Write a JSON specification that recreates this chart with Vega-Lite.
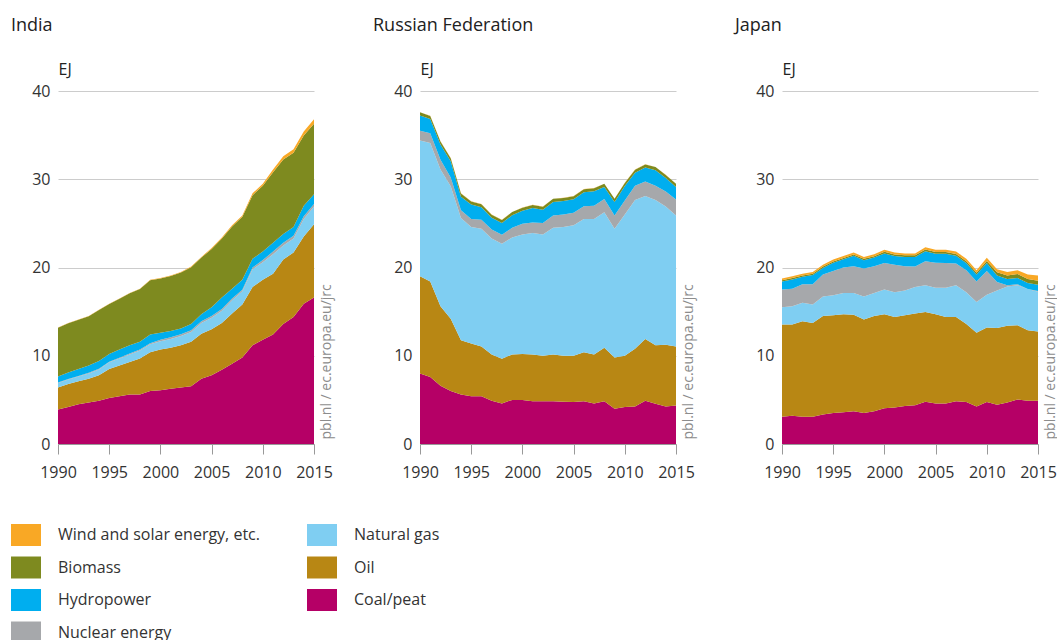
{
  "$schema": "https://vega.github.io/schema/vega-lite/v6.json",
  "padding": {"left": 11, "top": 17, "right": 0, "bottom": 0},
  "bounds": "flush",
  "spacing": 106,
  "config": {
    "view": {"stroke": null},
    "font": "Open Sans",
    "title": {"anchor": "start", "dx": -47, "fontSize": 18, "fontWeight": "normal", "font": "Open Sans", "color": "#222222", "offset": 26, "frame": "group"},
    "axis": {"labelFont": "Open Sans", "labelFontSize": 16, "labelColor": "#333333", "titleFont": "Open Sans", "titleFontWeight": "normal", "titleColor": "#222222"},
    "legend": {"orient": "none", "legendX": -47, "legendY": 429, "columns": 2, "direction": "vertical", "columnPadding": 47, "rowPadding": 6.5, "symbolType": "M-1,-0.733H1V0.733H-1Z", "symbolSize": 900, "symbolStrokeWidth": 0, "symbolOpacity": 1, "labelFont": "Open Sans", "labelFontSize": 16, "labelColor": "#333333", "labelOffset": 17, "labelLimit": 400, "padding": 0}
  },
  "datasets": {
    "rank": [
      {"s":"Coal/peat","k":1},{"s":"Oil","k":2},{"s":"Natural gas","k":3},{"s":"Nuclear energy","k":4},{"s":"Hydropower","k":5},{"s":"Biomass","k":6},{"s":"Wind and solar energy, etc.","k":7}
    ],
    "India": [
      {"year":1990,"s":"Coal/peat","v":3.9},{"year":1990,"s":"Oil","v":2.5},{"year":1990,"s":"Natural gas","v":0.5},{"year":1990,"s":"Nuclear energy","v":0.06},{"year":1990,"s":"Hydropower","v":0.69},{"year":1990,"s":"Biomass","v":5.53},{"year":1990,"s":"Wind and solar energy, etc.","v":0.02},
      {"year":1991,"s":"Coal/peat","v":4.2},{"year":1991,"s":"Oil","v":2.6},{"year":1991,"s":"Natural gas","v":0.5},{"year":1991,"s":"Nuclear energy","v":0.06},{"year":1991,"s":"Hydropower","v":0.74},{"year":1991,"s":"Biomass","v":5.58},{"year":1991,"s":"Wind and solar energy, etc.","v":0.02},
      {"year":1992,"s":"Coal/peat","v":4.5},{"year":1992,"s":"Oil","v":2.6},{"year":1992,"s":"Natural gas","v":0.55},{"year":1992,"s":"Nuclear energy","v":0.06},{"year":1992,"s":"Hydropower","v":0.79},{"year":1992,"s":"Biomass","v":5.58},{"year":1992,"s":"Wind and solar energy, etc.","v":0.02},
      {"year":1993,"s":"Coal/peat","v":4.7},{"year":1993,"s":"Oil","v":2.7},{"year":1993,"s":"Natural gas","v":0.6},{"year":1993,"s":"Nuclear energy","v":0.06},{"year":1993,"s":"Hydropower","v":0.84},{"year":1993,"s":"Biomass","v":5.58},{"year":1993,"s":"Wind and solar energy, etc.","v":0.02},
      {"year":1994,"s":"Coal/peat","v":4.9},{"year":1994,"s":"Oil","v":2.9},{"year":1994,"s":"Natural gas","v":0.65},{"year":1994,"s":"Nuclear energy","v":0.07},{"year":1994,"s":"Hydropower","v":0.88},{"year":1994,"s":"Biomass","v":5.78},{"year":1994,"s":"Wind and solar energy, etc.","v":0.02},
      {"year":1995,"s":"Coal/peat","v":5.2},{"year":1995,"s":"Oil","v":3.3},{"year":1995,"s":"Natural gas","v":0.75},{"year":1995,"s":"Nuclear energy","v":0.08},{"year":1995,"s":"Hydropower","v":0.87},{"year":1995,"s":"Biomass","v":5.67},{"year":1995,"s":"Wind and solar energy, etc.","v":0.03},
      {"year":1996,"s":"Coal/peat","v":5.4},{"year":1996,"s":"Oil","v":3.5},{"year":1996,"s":"Natural gas","v":0.8},{"year":1996,"s":"Nuclear energy","v":0.08},{"year":1996,"s":"Hydropower","v":0.92},{"year":1996,"s":"Biomass","v":5.77},{"year":1996,"s":"Wind and solar energy, etc.","v":0.03},
      {"year":1997,"s":"Coal/peat","v":5.6},{"year":1997,"s":"Oil","v":3.7},{"year":1997,"s":"Natural gas","v":0.85},{"year":1997,"s":"Nuclear energy","v":0.1},{"year":1997,"s":"Hydropower","v":0.95},{"year":1997,"s":"Biomass","v":5.87},{"year":1997,"s":"Wind and solar energy, etc.","v":0.03},
      {"year":1998,"s":"Coal/peat","v":5.6},{"year":1998,"s":"Oil","v":4.1},{"year":1998,"s":"Natural gas","v":0.9},{"year":1998,"s":"Nuclear energy","v":0.12},{"year":1998,"s":"Hydropower","v":0.88},{"year":1998,"s":"Biomass","v":5.96},{"year":1998,"s":"Wind and solar energy, etc.","v":0.04},
      {"year":1999,"s":"Coal/peat","v":6.0},{"year":1999,"s":"Oil","v":4.4},{"year":1999,"s":"Natural gas","v":0.9},{"year":1999,"s":"Nuclear energy","v":0.13},{"year":1999,"s":"Hydropower","v":0.97},{"year":1999,"s":"Biomass","v":6.16},{"year":1999,"s":"Wind and solar energy, etc.","v":0.04},
      {"year":2000,"s":"Coal/peat","v":6.1},{"year":2000,"s":"Oil","v":4.6},{"year":2000,"s":"Natural gas","v":0.95},{"year":2000,"s":"Nuclear energy","v":0.17},{"year":2000,"s":"Hydropower","v":0.78},{"year":2000,"s":"Biomass","v":6.15},{"year":2000,"s":"Wind and solar energy, etc.","v":0.05},
      {"year":2001,"s":"Coal/peat","v":6.25},{"year":2001,"s":"Oil","v":4.65},{"year":2001,"s":"Natural gas","v":1.0},{"year":2001,"s":"Nuclear energy","v":0.2},{"year":2001,"s":"Hydropower","v":0.7},{"year":2001,"s":"Biomass","v":6.25},{"year":2001,"s":"Wind and solar energy, etc.","v":0.05},
      {"year":2002,"s":"Coal/peat","v":6.4},{"year":2002,"s":"Oil","v":4.8},{"year":2002,"s":"Natural gas","v":1.05},{"year":2002,"s":"Nuclear energy","v":0.2},{"year":2002,"s":"Hydropower","v":0.65},{"year":2002,"s":"Biomass","v":6.34},{"year":2002,"s":"Wind and solar energy, etc.","v":0.06},
      {"year":2003,"s":"Coal/peat","v":6.55},{"year":2003,"s":"Oil","v":5.05},{"year":2003,"s":"Natural gas","v":1.1},{"year":2003,"s":"Nuclear energy","v":0.2},{"year":2003,"s":"Hydropower","v":0.7},{"year":2003,"s":"Biomass","v":6.43},{"year":2003,"s":"Wind and solar energy, etc.","v":0.07},
      {"year":2004,"s":"Coal/peat","v":7.4},{"year":2004,"s":"Oil","v":5.1},{"year":2004,"s":"Natural gas","v":1.2},{"year":2004,"s":"Nuclear energy","v":0.2},{"year":2004,"s":"Hydropower","v":0.8},{"year":2004,"s":"Biomass","v":6.42},{"year":2004,"s":"Wind and solar energy, etc.","v":0.08},
      {"year":2005,"s":"Coal/peat","v":7.8},{"year":2005,"s":"Oil","v":5.2},{"year":2005,"s":"Natural gas","v":1.3},{"year":2005,"s":"Nuclear energy","v":0.2},{"year":2005,"s":"Hydropower","v":1.0},{"year":2005,"s":"Biomass","v":6.6},{"year":2005,"s":"Wind and solar energy, etc.","v":0.1},
      {"year":2006,"s":"Coal/peat","v":8.4},{"year":2006,"s":"Oil","v":5.3},{"year":2006,"s":"Natural gas","v":1.4},{"year":2006,"s":"Nuclear energy","v":0.2},{"year":2006,"s":"Hydropower","v":1.3},{"year":2006,"s":"Biomass","v":6.68},{"year":2006,"s":"Wind and solar energy, etc.","v":0.12},
      {"year":2007,"s":"Coal/peat","v":9.1},{"year":2007,"s":"Oil","v":5.7},{"year":2007,"s":"Natural gas","v":1.5},{"year":2007,"s":"Nuclear energy","v":0.2},{"year":2007,"s":"Hydropower","v":1.1},{"year":2007,"s":"Biomass","v":7.06},{"year":2007,"s":"Wind and solar energy, etc.","v":0.14},
      {"year":2008,"s":"Coal/peat","v":9.8},{"year":2008,"s":"Oil","v":6.0},{"year":2008,"s":"Natural gas","v":1.5},{"year":2008,"s":"Nuclear energy","v":0.18},{"year":2008,"s":"Hydropower","v":1.12},{"year":2008,"s":"Biomass","v":7.14},{"year":2008,"s":"Wind and solar energy, etc.","v":0.16},
      {"year":2009,"s":"Coal/peat","v":11.2},{"year":2009,"s":"Oil","v":6.6},{"year":2009,"s":"Natural gas","v":2.0},{"year":2009,"s":"Nuclear energy","v":0.2},{"year":2009,"s":"Hydropower","v":1.0},{"year":2009,"s":"Biomass","v":7.2},{"year":2009,"s":"Wind and solar energy, etc.","v":0.2},
      {"year":2010,"s":"Coal/peat","v":11.8},{"year":2010,"s":"Oil","v":6.8},{"year":2010,"s":"Natural gas","v":2.0},{"year":2010,"s":"Nuclear energy","v":0.25},{"year":2010,"s":"Hydropower","v":0.95},{"year":2010,"s":"Biomass","v":7.45},{"year":2010,"s":"Wind and solar energy, etc.","v":0.25},
      {"year":2011,"s":"Coal/peat","v":12.4},{"year":2011,"s":"Oil","v":6.9},{"year":2011,"s":"Natural gas","v":2.2},{"year":2011,"s":"Nuclear energy","v":0.3},{"year":2011,"s":"Hydropower","v":1.0},{"year":2011,"s":"Biomass","v":8.0},{"year":2011,"s":"Wind and solar energy, etc.","v":0.3},
      {"year":2012,"s":"Coal/peat","v":13.6},{"year":2012,"s":"Oil","v":7.3},{"year":2012,"s":"Natural gas","v":1.6},{"year":2012,"s":"Nuclear energy","v":0.3},{"year":2012,"s":"Hydropower","v":1.0},{"year":2012,"s":"Biomass","v":8.45},{"year":2012,"s":"Wind and solar energy, etc.","v":0.35},
      {"year":2013,"s":"Coal/peat","v":14.4},{"year":2013,"s":"Oil","v":7.3},{"year":2013,"s":"Natural gas","v":1.6},{"year":2013,"s":"Nuclear energy","v":0.3},{"year":2013,"s":"Hydropower","v":1.0},{"year":2013,"s":"Biomass","v":8.4},{"year":2013,"s":"Wind and solar energy, etc.","v":0.4},
      {"year":2014,"s":"Coal/peat","v":15.9},{"year":2014,"s":"Oil","v":7.6},{"year":2014,"s":"Natural gas","v":2.0},{"year":2014,"s":"Nuclear energy","v":0.3},{"year":2014,"s":"Hydropower","v":1.2},{"year":2014,"s":"Biomass","v":7.95},{"year":2014,"s":"Wind and solar energy, etc.","v":0.45},
      {"year":2015,"s":"Coal/peat","v":16.6},{"year":2015,"s":"Oil","v":8.3},{"year":2015,"s":"Natural gas","v":2.0},{"year":2015,"s":"Nuclear energy","v":0.3},{"year":2015,"s":"Hydropower","v":1.1},{"year":2015,"s":"Biomass","v":8.0},{"year":2015,"s":"Wind and solar energy, etc.","v":0.5}
    ],
    "Russia": [
      {"year":1990,"s":"Coal/peat","v":8.0},{"year":1990,"s":"Oil","v":11.0},{"year":1990,"s":"Natural gas","v":15.4},{"year":1990,"s":"Nuclear energy","v":1.1},{"year":1990,"s":"Hydropower","v":1.73},{"year":1990,"s":"Biomass","v":0.35},{"year":1990,"s":"Wind and solar energy, etc.","v":0.02},
      {"year":1991,"s":"Coal/peat","v":7.6},{"year":1991,"s":"Oil","v":10.8},{"year":1991,"s":"Natural gas","v":15.7},{"year":1991,"s":"Nuclear energy","v":1.1},{"year":1991,"s":"Hydropower","v":1.63},{"year":1991,"s":"Biomass","v":0.35},{"year":1991,"s":"Wind and solar energy, etc.","v":0.02},
      {"year":1992,"s":"Coal/peat","v":6.6},{"year":1992,"s":"Oil","v":9.0},{"year":1992,"s":"Natural gas","v":15.5},{"year":1992,"s":"Nuclear energy","v":1.1},{"year":1992,"s":"Hydropower","v":1.73},{"year":1992,"s":"Biomass","v":0.35},{"year":1992,"s":"Wind and solar energy, etc.","v":0.02},
      {"year":1993,"s":"Coal/peat","v":6.0},{"year":1993,"s":"Oil","v":8.2},{"year":1993,"s":"Natural gas","v":15.0},{"year":1993,"s":"Nuclear energy","v":1.0},{"year":1993,"s":"Hydropower","v":1.83},{"year":1993,"s":"Biomass","v":0.35},{"year":1993,"s":"Wind and solar energy, etc.","v":0.02},
      {"year":1994,"s":"Coal/peat","v":5.6},{"year":1994,"s":"Oil","v":6.15},{"year":1994,"s":"Natural gas","v":13.85},{"year":1994,"s":"Nuclear energy","v":0.9},{"year":1994,"s":"Hydropower","v":1.53},{"year":1994,"s":"Biomass","v":0.35},{"year":1994,"s":"Wind and solar energy, etc.","v":0.02},
      {"year":1995,"s":"Coal/peat","v":5.4},{"year":1995,"s":"Oil","v":6.0},{"year":1995,"s":"Natural gas","v":13.2},{"year":1995,"s":"Nuclear energy","v":0.9},{"year":1995,"s":"Hydropower","v":1.63},{"year":1995,"s":"Biomass","v":0.35},{"year":1995,"s":"Wind and solar energy, etc.","v":0.02},
      {"year":1996,"s":"Coal/peat","v":5.4},{"year":1996,"s":"Oil","v":5.65},{"year":1996,"s":"Natural gas","v":13.35},{"year":1996,"s":"Nuclear energy","v":1.0},{"year":1996,"s":"Hydropower","v":1.43},{"year":1996,"s":"Biomass","v":0.35},{"year":1996,"s":"Wind and solar energy, etc.","v":0.02},
      {"year":1997,"s":"Coal/peat","v":4.9},{"year":1997,"s":"Oil","v":5.25},{"year":1997,"s":"Natural gas","v":13.15},{"year":1997,"s":"Nuclear energy","v":1.0},{"year":1997,"s":"Hydropower","v":1.33},{"year":1997,"s":"Biomass","v":0.35},{"year":1997,"s":"Wind and solar energy, etc.","v":0.02},
      {"year":1998,"s":"Coal/peat","v":4.6},{"year":1998,"s":"Oil","v":5.05},{"year":1998,"s":"Natural gas","v":13.05},{"year":1998,"s":"Nuclear energy","v":1.0},{"year":1998,"s":"Hydropower","v":1.33},{"year":1998,"s":"Biomass","v":0.35},{"year":1998,"s":"Wind and solar energy, etc.","v":0.02},
      {"year":1999,"s":"Coal/peat","v":5.0},{"year":1999,"s":"Oil","v":5.15},{"year":1999,"s":"Natural gas","v":13.25},{"year":1999,"s":"Nuclear energy","v":1.1},{"year":1999,"s":"Hydropower","v":1.43},{"year":1999,"s":"Biomass","v":0.35},{"year":1999,"s":"Wind and solar energy, etc.","v":0.02},
      {"year":2000,"s":"Coal/peat","v":5.0},{"year":2000,"s":"Oil","v":5.2},{"year":2000,"s":"Natural gas","v":13.55},{"year":2000,"s":"Nuclear energy","v":1.2},{"year":2000,"s":"Hydropower","v":1.48},{"year":2000,"s":"Biomass","v":0.35},{"year":2000,"s":"Wind and solar energy, etc.","v":0.02},
      {"year":2001,"s":"Coal/peat","v":4.85},{"year":2001,"s":"Oil","v":5.3},{"year":2001,"s":"Natural gas","v":13.75},{"year":2001,"s":"Nuclear energy","v":1.2},{"year":2001,"s":"Hydropower","v":1.63},{"year":2001,"s":"Biomass","v":0.35},{"year":2001,"s":"Wind and solar energy, etc.","v":0.02},
      {"year":2002,"s":"Coal/peat","v":4.85},{"year":2002,"s":"Oil","v":5.15},{"year":2002,"s":"Natural gas","v":13.75},{"year":2002,"s":"Nuclear energy","v":1.3},{"year":2002,"s":"Hydropower","v":1.48},{"year":2002,"s":"Biomass","v":0.35},{"year":2002,"s":"Wind and solar energy, etc.","v":0.02},
      {"year":2003,"s":"Coal/peat","v":4.85},{"year":2003,"s":"Oil","v":5.3},{"year":2003,"s":"Natural gas","v":14.35},{"year":2003,"s":"Nuclear energy","v":1.4},{"year":2003,"s":"Hydropower","v":1.53},{"year":2003,"s":"Biomass","v":0.35},{"year":2003,"s":"Wind and solar energy, etc.","v":0.02},
      {"year":2004,"s":"Coal/peat","v":4.8},{"year":2004,"s":"Oil","v":5.2},{"year":2004,"s":"Natural gas","v":14.6},{"year":2004,"s":"Nuclear energy","v":1.4},{"year":2004,"s":"Hydropower","v":1.53},{"year":2004,"s":"Biomass","v":0.35},{"year":2004,"s":"Wind and solar energy, etc.","v":0.02},
      {"year":2005,"s":"Coal/peat","v":4.75},{"year":2005,"s":"Oil","v":5.25},{"year":2005,"s":"Natural gas","v":14.8},{"year":2005,"s":"Nuclear energy","v":1.4},{"year":2005,"s":"Hydropower","v":1.53},{"year":2005,"s":"Biomass","v":0.35},{"year":2005,"s":"Wind and solar energy, etc.","v":0.02},
      {"year":2006,"s":"Coal/peat","v":4.85},{"year":2006,"s":"Oil","v":5.55},{"year":2006,"s":"Natural gas","v":15.1},{"year":2006,"s":"Nuclear energy","v":1.45},{"year":2006,"s":"Hydropower","v":1.58},{"year":2006,"s":"Biomass","v":0.35},{"year":2006,"s":"Wind and solar energy, etc.","v":0.02},
      {"year":2007,"s":"Coal/peat","v":4.6},{"year":2007,"s":"Oil","v":5.55},{"year":2007,"s":"Natural gas","v":15.35},{"year":2007,"s":"Nuclear energy","v":1.5},{"year":2007,"s":"Hydropower","v":1.63},{"year":2007,"s":"Biomass","v":0.35},{"year":2007,"s":"Wind and solar energy, etc.","v":0.02},
      {"year":2008,"s":"Coal/peat","v":4.85},{"year":2008,"s":"Oil","v":6.05},{"year":2008,"s":"Natural gas","v":15.35},{"year":2008,"s":"Nuclear energy","v":1.5},{"year":2008,"s":"Hydropower","v":1.38},{"year":2008,"s":"Biomass","v":0.35},{"year":2008,"s":"Wind and solar energy, etc.","v":0.02},
      {"year":2009,"s":"Coal/peat","v":4.0},{"year":2009,"s":"Oil","v":5.8},{"year":2009,"s":"Natural gas","v":14.6},{"year":2009,"s":"Nuclear energy","v":1.5},{"year":2009,"s":"Hydropower","v":1.53},{"year":2009,"s":"Biomass","v":0.35},{"year":2009,"s":"Wind and solar energy, etc.","v":0.02},
      {"year":2010,"s":"Coal/peat","v":4.2},{"year":2010,"s":"Oil","v":5.8},{"year":2010,"s":"Natural gas","v":16.0},{"year":2010,"s":"Nuclear energy","v":1.6},{"year":2010,"s":"Hydropower","v":1.63},{"year":2010,"s":"Biomass","v":0.35},{"year":2010,"s":"Wind and solar energy, etc.","v":0.02},
      {"year":2011,"s":"Coal/peat","v":4.25},{"year":2011,"s":"Oil","v":6.55},{"year":2011,"s":"Natural gas","v":16.85},{"year":2011,"s":"Nuclear energy","v":1.6},{"year":2011,"s":"Hydropower","v":1.48},{"year":2011,"s":"Biomass","v":0.35},{"year":2011,"s":"Wind and solar energy, etc.","v":0.02},
      {"year":2012,"s":"Coal/peat","v":4.9},{"year":2012,"s":"Oil","v":7.0},{"year":2012,"s":"Natural gas","v":16.2},{"year":2012,"s":"Nuclear energy","v":1.65},{"year":2012,"s":"Hydropower","v":1.58},{"year":2012,"s":"Biomass","v":0.35},{"year":2012,"s":"Wind and solar energy, etc.","v":0.02},
      {"year":2013,"s":"Coal/peat","v":4.55},{"year":2013,"s":"Oil","v":6.65},{"year":2013,"s":"Natural gas","v":16.45},{"year":2013,"s":"Nuclear energy","v":1.6},{"year":2013,"s":"Hydropower","v":1.78},{"year":2013,"s":"Biomass","v":0.35},{"year":2013,"s":"Wind and solar energy, etc.","v":0.02},
      {"year":2014,"s":"Coal/peat","v":4.25},{"year":2014,"s":"Oil","v":7.0},{"year":2014,"s":"Natural gas","v":15.65},{"year":2014,"s":"Nuclear energy","v":1.7},{"year":2014,"s":"Hydropower","v":1.53},{"year":2014,"s":"Biomass","v":0.35},{"year":2014,"s":"Wind and solar energy, etc.","v":0.02},
      {"year":2015,"s":"Coal/peat","v":4.35},{"year":2015,"s":"Oil","v":6.7},{"year":2015,"s":"Natural gas","v":14.85},{"year":2015,"s":"Nuclear energy","v":1.8},{"year":2015,"s":"Hydropower","v":1.43},{"year":2015,"s":"Biomass","v":0.35},{"year":2015,"s":"Wind and solar energy, etc.","v":0.02}
    ],
    "Japan": [
      {"year":1990,"s":"Coal/peat","v":3.1},{"year":1990,"s":"Oil","v":10.45},{"year":1990,"s":"Natural gas","v":1.95},{"year":1990,"s":"Nuclear energy","v":2.0},{"year":1990,"s":"Hydropower","v":0.9},{"year":1990,"s":"Biomass","v":0.15},{"year":1990,"s":"Wind and solar energy, etc.","v":0.2},
      {"year":1991,"s":"Coal/peat","v":3.2},{"year":1991,"s":"Oil","v":10.35},{"year":1991,"s":"Natural gas","v":2.05},{"year":1991,"s":"Nuclear energy","v":2.0},{"year":1991,"s":"Hydropower","v":1.05},{"year":1991,"s":"Biomass","v":0.15},{"year":1991,"s":"Wind and solar energy, etc.","v":0.2},
      {"year":1992,"s":"Coal/peat","v":3.1},{"year":1992,"s":"Oil","v":10.8},{"year":1992,"s":"Natural gas","v":2.1},{"year":1992,"s":"Nuclear energy","v":2.1},{"year":1992,"s":"Hydropower","v":0.85},{"year":1992,"s":"Biomass","v":0.15},{"year":1992,"s":"Wind and solar energy, etc.","v":0.2},
      {"year":1993,"s":"Coal/peat","v":3.1},{"year":1993,"s":"Oil","v":10.6},{"year":1993,"s":"Natural gas","v":2.1},{"year":1993,"s":"Nuclear energy","v":2.3},{"year":1993,"s":"Hydropower","v":1.05},{"year":1993,"s":"Biomass","v":0.15},{"year":1993,"s":"Wind and solar energy, etc.","v":0.2},
      {"year":1994,"s":"Coal/peat","v":3.35},{"year":1994,"s":"Oil","v":11.15},{"year":1994,"s":"Natural gas","v":2.2},{"year":1994,"s":"Nuclear energy","v":2.5},{"year":1994,"s":"Hydropower","v":0.75},{"year":1994,"s":"Biomass","v":0.15},{"year":1994,"s":"Wind and solar energy, etc.","v":0.2},
      {"year":1995,"s":"Coal/peat","v":3.5},{"year":1995,"s":"Oil","v":11.1},{"year":1995,"s":"Natural gas","v":2.25},{"year":1995,"s":"Nuclear energy","v":2.75},{"year":1995,"s":"Hydropower","v":0.93},{"year":1995,"s":"Biomass","v":0.15},{"year":1995,"s":"Wind and solar energy, etc.","v":0.22},
      {"year":1996,"s":"Coal/peat","v":3.6},{"year":1996,"s":"Oil","v":11.1},{"year":1996,"s":"Natural gas","v":2.4},{"year":1996,"s":"Nuclear energy","v":2.9},{"year":1996,"s":"Hydropower","v":0.93},{"year":1996,"s":"Biomass","v":0.15},{"year":1996,"s":"Wind and solar energy, etc.","v":0.22},
      {"year":1997,"s":"Coal/peat","v":3.7},{"year":1997,"s":"Oil","v":10.95},{"year":1997,"s":"Natural gas","v":2.45},{"year":1997,"s":"Nuclear energy","v":3.05},{"year":1997,"s":"Hydropower","v":1.18},{"year":1997,"s":"Biomass","v":0.15},{"year":1997,"s":"Wind and solar energy, etc.","v":0.22},
      {"year":1998,"s":"Coal/peat","v":3.5},{"year":1998,"s":"Oil","v":10.6},{"year":1998,"s":"Natural gas","v":2.6},{"year":1998,"s":"Nuclear energy","v":3.2},{"year":1998,"s":"Hydropower","v":0.93},{"year":1998,"s":"Biomass","v":0.15},{"year":1998,"s":"Wind and solar energy, etc.","v":0.22},
      {"year":1999,"s":"Coal/peat","v":3.7},{"year":1999,"s":"Oil","v":10.8},{"year":1999,"s":"Natural gas","v":2.6},{"year":1999,"s":"Nuclear energy","v":3.05},{"year":1999,"s":"Hydropower","v":0.98},{"year":1999,"s":"Biomass","v":0.15},{"year":1999,"s":"Wind and solar energy, etc.","v":0.22},
      {"year":2000,"s":"Coal/peat","v":4.05},{"year":2000,"s":"Oil","v":10.65},{"year":2000,"s":"Natural gas","v":2.8},{"year":2000,"s":"Nuclear energy","v":3.0},{"year":2000,"s":"Hydropower","v":1.1},{"year":2000,"s":"Biomass","v":0.18},{"year":2000,"s":"Wind and solar energy, etc.","v":0.22},
      {"year":2001,"s":"Coal/peat","v":4.15},{"year":2001,"s":"Oil","v":10.25},{"year":2001,"s":"Natural gas","v":2.8},{"year":2001,"s":"Nuclear energy","v":3.1},{"year":2001,"s":"Hydropower","v":1.0},{"year":2001,"s":"Biomass","v":0.18},{"year":2001,"s":"Wind and solar energy, etc.","v":0.22},
      {"year":2002,"s":"Coal/peat","v":4.3},{"year":2002,"s":"Oil","v":10.3},{"year":2002,"s":"Natural gas","v":2.8},{"year":2002,"s":"Nuclear energy","v":2.75},{"year":2002,"s":"Hydropower","v":1.05},{"year":2002,"s":"Biomass","v":0.18},{"year":2002,"s":"Wind and solar energy, etc.","v":0.22},
      {"year":2003,"s":"Coal/peat","v":4.4},{"year":2003,"s":"Oil","v":10.4},{"year":2003,"s":"Natural gas","v":3.0},{"year":2003,"s":"Nuclear energy","v":2.3},{"year":2003,"s":"Hydropower","v":1.1},{"year":2003,"s":"Biomass","v":0.18},{"year":2003,"s":"Wind and solar energy, etc.","v":0.22},
      {"year":2004,"s":"Coal/peat","v":4.8},{"year":2004,"s":"Oil","v":10.15},{"year":2004,"s":"Natural gas","v":3.05},{"year":2004,"s":"Nuclear energy","v":2.7},{"year":2004,"s":"Hydropower","v":1.15},{"year":2004,"s":"Biomass","v":0.2},{"year":2004,"s":"Wind and solar energy, etc.","v":0.25},
      {"year":2005,"s":"Coal/peat","v":4.6},{"year":2005,"s":"Oil","v":10.1},{"year":2005,"s":"Natural gas","v":3.0},{"year":2005,"s":"Nuclear energy","v":2.85},{"year":2005,"s":"Hydropower","v":1.0},{"year":2005,"s":"Biomass","v":0.2},{"year":2005,"s":"Wind and solar energy, etc.","v":0.25},
      {"year":2006,"s":"Coal/peat","v":4.6},{"year":2006,"s":"Oil","v":9.8},{"year":2006,"s":"Natural gas","v":3.3},{"year":2006,"s":"Nuclear energy","v":2.8},{"year":2006,"s":"Hydropower","v":1.05},{"year":2006,"s":"Biomass","v":0.2},{"year":2006,"s":"Wind and solar energy, etc.","v":0.25},
      {"year":2007,"s":"Coal/peat","v":4.85},{"year":2007,"s":"Oil","v":9.55},{"year":2007,"s":"Natural gas","v":3.6},{"year":2007,"s":"Nuclear energy","v":2.45},{"year":2007,"s":"Hydropower","v":0.88},{"year":2007,"s":"Biomass","v":0.2},{"year":2007,"s":"Wind and solar energy, etc.","v":0.27},
      {"year":2008,"s":"Coal/peat","v":4.75},{"year":2008,"s":"Oil","v":8.85},{"year":2008,"s":"Natural gas","v":3.6},{"year":2008,"s":"Nuclear energy","v":2.5},{"year":2008,"s":"Hydropower","v":0.8},{"year":2008,"s":"Biomass","v":0.2},{"year":2008,"s":"Wind and solar energy, etc.","v":0.3},
      {"year":2009,"s":"Coal/peat","v":4.25},{"year":2009,"s":"Oil","v":8.35},{"year":2009,"s":"Natural gas","v":3.5},{"year":2009,"s":"Nuclear energy","v":2.3},{"year":2009,"s":"Hydropower","v":0.8},{"year":2009,"s":"Biomass","v":0.2},{"year":2009,"s":"Wind and solar energy, etc.","v":0.3},
      {"year":2010,"s":"Coal/peat","v":4.75},{"year":2010,"s":"Oil","v":8.45},{"year":2010,"s":"Natural gas","v":3.7},{"year":2010,"s":"Nuclear energy","v":2.7},{"year":2010,"s":"Hydropower","v":0.9},{"year":2010,"s":"Biomass","v":0.25},{"year":2010,"s":"Wind and solar energy, etc.","v":0.35},
      {"year":2011,"s":"Coal/peat","v":4.45},{"year":2011,"s":"Oil","v":8.7},{"year":2011,"s":"Natural gas","v":4.25},{"year":2011,"s":"Nuclear energy","v":0.95},{"year":2011,"s":"Hydropower","v":0.75},{"year":2011,"s":"Biomass","v":0.35},{"year":2011,"s":"Wind and solar energy, etc.","v":0.35},
      {"year":2012,"s":"Coal/peat","v":4.7},{"year":2012,"s":"Oil","v":8.7},{"year":2012,"s":"Natural gas","v":4.45},{"year":2012,"s":"Nuclear energy","v":0.15},{"year":2012,"s":"Hydropower","v":0.7},{"year":2012,"s":"Biomass","v":0.4},{"year":2012,"s":"Wind and solar energy, etc.","v":0.4},
      {"year":2013,"s":"Coal/peat","v":5.05},{"year":2013,"s":"Oil","v":8.4},{"year":2013,"s":"Natural gas","v":4.55},{"year":2013,"s":"Nuclear energy","v":0.1},{"year":2013,"s":"Hydropower","v":0.7},{"year":2013,"s":"Biomass","v":0.45},{"year":2013,"s":"Wind and solar energy, etc.","v":0.45},
      {"year":2014,"s":"Coal/peat","v":4.9},{"year":2014,"s":"Oil","v":8.0},{"year":2014,"s":"Natural gas","v":4.65},{"year":2014,"s":"Nuclear energy","v":0.0},{"year":2014,"s":"Hydropower","v":0.7},{"year":2014,"s":"Biomass","v":0.45},{"year":2014,"s":"Wind and solar energy, etc.","v":0.5},
      {"year":2015,"s":"Coal/peat","v":4.9},{"year":2015,"s":"Oil","v":7.85},{"year":2015,"s":"Natural gas","v":4.5},{"year":2015,"s":"Nuclear energy","v":0.1},{"year":2015,"s":"Hydropower","v":0.7},{"year":2015,"s":"Biomass","v":0.45},{"year":2015,"s":"Wind and solar energy, etc.","v":0.6}
    ]
  },
  "hconcat": [
    {
      "width": 256, "height": 353,
      "title": {"text": "India"},
      "layer": [
        {
          "data": {"name": "India"},
          "transform": [{"lookup": "s", "from": {"data": {"name": "rank"}, "key": "s", "fields": ["k"]}}],
          "mark": {"type": "area", "interpolate": "linear"},
          "encoding": {
            "x": {"field": "year", "type": "quantitative", "scale": {"domain": [1990, 2015], "nice": false, "zero": false}, "axis": {"values": [1990, 1995, 2000, 2005, 2010, 2015], "format": "d", "title": null, "grid": false, "domainColor": "#999999", "tickColor": "#999999", "tickSize": 10, "labelPadding": 10, "labelOverlap": false, "labelFlush": false, "zindex": 1}},
            "y": {"field": "v", "type": "quantitative", "stack": "zero", "scale": {"domain": [0, 40], "nice": false}, "axis": {"values": [0, 10, 20, 30, 40], "domain": false, "ticks": false, "grid": true, "gridColor": "#cccccc", "labelPadding": 8, "title": "EJ", "titleAngle": 0, "titleAlign": "left", "titleBaseline": "alphabetic", "titleX": 0, "titleY": -17, "titleFontSize": 16}},
            "order": {"field": "k", "type": "quantitative", "sort": "ascending"},
            "color": {"field": "s", "type": "nominal", "scale": {"domain": ["Coal/peat", "Oil", "Natural gas", "Nuclear energy", "Hydropower", "Biomass", "Wind and solar energy, etc."], "range": ["#b50066", "#b88714", "#7fcef2", "#a6a8ab", "#00aeef", "#7e8a1f", "#f9a825"]}, "legend": {"title": null, "values": ["Wind and solar energy, etc.", "Biomass", "Hydropower", "Nuclear energy", "Natural gas", "Oil", "Coal/peat"]}}
          }
        },
        {
          "data": {"values": [{}]},
          "mark": {"type": "rule", "opacity": 0},
          "encoding": {"y": {"datum": 0, "type": "quantitative", "axis": {"orient": "right", "labels": false, "ticks": false, "domain": false, "grid": false, "title": "pbl.nl / ec.europa.eu/jrc", "titleAngle": 270, "titleAlign": "left", "titleBaseline": "middle", "titleX": 12, "titleY": 348, "titleFontSize": 14, "titleColor": "#8c8c8c"}}}
        }
      ],
      "resolve": {"axis": {"y": "independent"}}
    },
    {
      "width": 256, "height": 353,
      "title": {"text": "Russian Federation"},
      "layer": [
        {
          "data": {"name": "Russia"},
          "transform": [{"lookup": "s", "from": {"data": {"name": "rank"}, "key": "s", "fields": ["k"]}}],
          "mark": {"type": "area", "interpolate": "linear"},
          "encoding": {
            "x": {"field": "year", "type": "quantitative", "scale": {"domain": [1990, 2015], "nice": false, "zero": false}, "axis": {"values": [1990, 1995, 2000, 2005, 2010, 2015], "format": "d", "title": null, "grid": false, "domainColor": "#999999", "tickColor": "#999999", "tickSize": 10, "labelPadding": 10, "labelOverlap": false, "labelFlush": false, "zindex": 1}},
            "y": {"field": "v", "type": "quantitative", "stack": "zero", "scale": {"domain": [0, 40], "nice": false}, "axis": {"values": [0, 10, 20, 30, 40], "domain": false, "ticks": false, "grid": true, "gridColor": "#cccccc", "labelPadding": 8, "title": "EJ", "titleAngle": 0, "titleAlign": "left", "titleBaseline": "alphabetic", "titleX": 0, "titleY": -17, "titleFontSize": 16}},
            "order": {"field": "k", "type": "quantitative", "sort": "ascending"},
            "color": {"field": "s", "type": "nominal", "scale": {"domain": ["Coal/peat", "Oil", "Natural gas", "Nuclear energy", "Hydropower", "Biomass", "Wind and solar energy, etc."], "range": ["#b50066", "#b88714", "#7fcef2", "#a6a8ab", "#00aeef", "#7e8a1f", "#f9a825"]}, "legend": {"title": null, "values": ["Wind and solar energy, etc.", "Biomass", "Hydropower", "Nuclear energy", "Natural gas", "Oil", "Coal/peat"]}}
          }
        },
        {
          "data": {"values": [{}]},
          "mark": {"type": "rule", "opacity": 0},
          "encoding": {"y": {"datum": 0, "type": "quantitative", "axis": {"orient": "right", "labels": false, "ticks": false, "domain": false, "grid": false, "title": "pbl.nl / ec.europa.eu/jrc", "titleAngle": 270, "titleAlign": "left", "titleBaseline": "middle", "titleX": 12, "titleY": 348, "titleFontSize": 14, "titleColor": "#8c8c8c"}}}
        }
      ],
      "resolve": {"axis": {"y": "independent"}}
    },
    {
      "width": 256, "height": 353,
      "title": {"text": "Japan"},
      "layer": [
        {
          "data": {"name": "Japan"},
          "transform": [{"lookup": "s", "from": {"data": {"name": "rank"}, "key": "s", "fields": ["k"]}}],
          "mark": {"type": "area", "interpolate": "linear"},
          "encoding": {
            "x": {"field": "year", "type": "quantitative", "scale": {"domain": [1990, 2015], "nice": false, "zero": false}, "axis": {"values": [1990, 1995, 2000, 2005, 2010, 2015], "format": "d", "title": null, "grid": false, "domainColor": "#999999", "tickColor": "#999999", "tickSize": 10, "labelPadding": 10, "labelOverlap": false, "labelFlush": false, "zindex": 1}},
            "y": {"field": "v", "type": "quantitative", "stack": "zero", "scale": {"domain": [0, 40], "nice": false}, "axis": {"values": [0, 10, 20, 30, 40], "domain": false, "ticks": false, "grid": true, "gridColor": "#cccccc", "labelPadding": 8, "title": "EJ", "titleAngle": 0, "titleAlign": "left", "titleBaseline": "alphabetic", "titleX": 0, "titleY": -17, "titleFontSize": 16}},
            "order": {"field": "k", "type": "quantitative", "sort": "ascending"},
            "color": {"field": "s", "type": "nominal", "scale": {"domain": ["Coal/peat", "Oil", "Natural gas", "Nuclear energy", "Hydropower", "Biomass", "Wind and solar energy, etc."], "range": ["#b50066", "#b88714", "#7fcef2", "#a6a8ab", "#00aeef", "#7e8a1f", "#f9a825"]}, "legend": {"title": null, "values": ["Wind and solar energy, etc.", "Biomass", "Hydropower", "Nuclear energy", "Natural gas", "Oil", "Coal/peat"]}}
          }
        },
        {
          "data": {"values": [{}]},
          "mark": {"type": "rule", "opacity": 0},
          "encoding": {"y": {"datum": 0, "type": "quantitative", "axis": {"orient": "right", "labels": false, "ticks": false, "domain": false, "grid": false, "title": "pbl.nl / ec.europa.eu/jrc", "titleAngle": 270, "titleAlign": "left", "titleBaseline": "middle", "titleX": 12, "titleY": 348, "titleFontSize": 14, "titleColor": "#8c8c8c"}}}
        }
      ],
      "resolve": {"axis": {"y": "independent"}}
    }
  ]
}
